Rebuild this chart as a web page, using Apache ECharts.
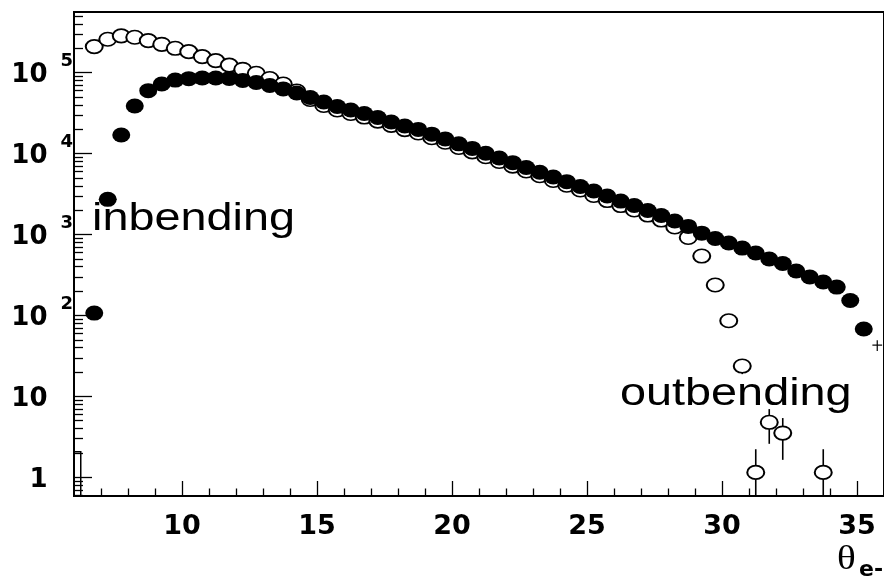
<!DOCTYPE html>
<html>
<head>
<meta charset="utf-8">
<script src="https://cdn.jsdelivr.net/npm/echarts@6/dist/echarts.min.js"></script>
<style>
  html, body { margin: 0; padding: 0; background: #fff; }
  #chart { width: 884px; height: 584px; }
</style>
</head>
<body>
<div id="chart"></div>
<script>
// Electron polar angle distribution, 0.5 degree bins
const thetaBins = [
  6.75, 7.25, 7.75, 8.25, 8.75, 9.25, 9.75, 10.25, 10.75, 11.25,
  11.75, 12.25, 12.75, 13.25, 13.75, 14.25, 14.75, 15.25, 15.75, 16.25,
  16.75, 17.25, 17.75, 18.25, 18.75, 19.25, 19.75, 20.25, 20.75, 21.25,
  21.75, 22.25, 22.75, 23.25, 23.75, 24.25, 24.75, 25.25, 25.75, 26.25,
  26.75, 27.25, 27.75, 28.25, 28.75, 29.25, 29.75, 30.25, 30.75, 31.25,
  31.75, 32.25, 32.75, 33.25, 33.75, 34.25, 34.75, 35.25
];

// inbending torus field (filled markers)
const inbending = [
  107, 2720, 17000, 38700, 60000, 72500, 81000, 84300, 86000, 86000,
  85000, 80000, 75700, 69500, 63000, 56100, 49300, 43400, 38200, 34600,
  31300, 27900, 24600, 21900, 19900, 17400, 15200, 13200, 11600, 10100,
  8830, 7730, 6730, 5890, 5140, 4500, 3920, 3450, 2990, 2590,
  2280, 1980, 1720, 1470, 1260, 1040, 893, 785, 680, 590,
  498, 438, 354, 299, 259, 224, 153, 68
];

// outbending torus field (open markers)
const outbending = [
  210000, 259000, 285000, 274000, 249000, 224000, 200000, 182000, 158000, 141000,
  124000, 110000, 98400, 84700, 72400, 59400, 46700, 39300, 34600, 31300,
  28300, 25200, 22300, 19800, 18000, 15700, 13800, 11900, 10500, 9140,
  7990, 7000, 6090, 5330, 4650, 4070, 3550, 3040, 2630, 2280,
  2010, 1740, 1510, 1240, 920, 542, 238, 86, 23.7, 1.15,
  4.78, 3.52, null, null, 1.15, null, null, null
];

// edge bins shown with error bars only
const inbendingEdgeBin = [35.75, 43];
const outbendingEdgeBin = [6.25, 2.07];

// axes
const X_MIN = 6, X_MAX = 36;
const Y_MIN = 0.5875, Y_MAX = 562000;
const xMajorTicks = [10, 15, 20, 25, 30, 35];
const xMinorTicks = [7, 8, 9, 11, 12, 13, 14, 16, 17, 18, 19, 21, 22, 23, 24,
                     26, 27, 28, 29, 31, 32, 33, 34, 36];
const yDecades = [0, 1, 2, 3, 4, 5];
const yTickLabels = [['1', ''], ['10', ''], ['10', '2'], ['10', '3'], ['10', '4'], ['10', '5']];

const yLogMin = Math.log10(Y_MIN), yLogMax = Math.log10(Y_MAX);
const yMinorTicks = [];
for (let d = -1; d <= 5; d++) {
  for (let m = 2; m <= 9; m++) {
    const v = Math.log10(m) + d;
    if (v > yLogMin && v < yLogMax) yMinorTicks.push(v);
  }
}

const toPoints = vals => thetaBins
  .map((x, i) => (vals[i] == null ? null : [x, vals[i]]))
  .filter(p => p !== null);

const inPts = toPoints(inbending);
const outPts = toPoints(outbending);

const BLACK = '#000';
const LABEL_FONT = '"DejaVu Sans", sans-serif';

function errorBar(params, api) {
  const x = api.value(0), v = api.value(1);
  const s = Math.sqrt(v);
  const lo = Math.max(v - s, Y_MIN), hi = Math.min(v + s, Y_MAX);
  const p1 = api.coord([x, lo]), p2 = api.coord([x, hi]);
  return {
    type: 'line',
    shape: { x1: p1[0], y1: p1[1], x2: p2[0], y2: p2[1] },
    style: { stroke: BLACK, lineWidth: 1.6 }
  };
}

function crossBar(params, api) {
  const x = api.value(0), v = api.value(1);
  const s = Math.sqrt(v);
  const a = api.coord([x, v - s]), b = api.coord([x, v + s]);
  const l = api.coord([x - 0.18, v]), r = api.coord([x + 0.18, v]);
  return {
    type: 'group',
    children: [
      { type: 'line', shape: { x1: a[0], y1: a[1], x2: b[0], y2: b[1] }, style: { stroke: BLACK, lineWidth: 1.2 } },
      { type: 'line', shape: { x1: l[0], y1: l[1], x2: r[0], y2: r[1] }, style: { stroke: BLACK, lineWidth: 1.2 } }
    ]
  };
}

function edgeStub(params, api) {
  const x = api.value(0), v = api.value(1);
  const p0 = api.coord([X_MIN, v]), p1 = api.coord([x, v]), p2 = api.coord([x, Y_MIN]);
  return {
    type: 'polyline',
    shape: { points: [p0, p1, p2] },
    style: { stroke: BLACK, lineWidth: 1.5, fill: null }
  };
}

const chart = echarts.init(document.getElementById('chart'), null, { renderer: 'canvas' });

chart.setOption({
  animation: false,
  backgroundColor: '#fff',
  grid: {
    left: 74, top: 12, right: -3, bottom: 88,
    show: true, borderColor: BLACK, borderWidth: 2, backgroundColor: 'transparent'
  },
  xAxis: [
    {
      type: 'value', min: X_MIN, max: X_MAX, position: 'bottom',
      axisLine: { show: true, onZero: false, lineStyle: { color: BLACK, width: 2 } },
      axisTick: { show: true, inside: true, length: 15, customValues: xMajorTicks,
                  lineStyle: { color: BLACK, width: 1.3 } },
      axisLabel: { show: true, customValues: xMajorTicks, margin: 17,
                   fontFamily: LABEL_FONT, fontWeight: 'bold', fontSize: 27, color: BLACK },
      splitLine: { show: false }
    },
    {
      type: 'value', min: X_MIN, max: X_MAX, position: 'bottom',
      axisLine: { show: false, onZero: false },
      axisTick: { show: true, inside: true, length: 7.5, customValues: xMinorTicks,
                  lineStyle: { color: BLACK, width: 1.3 } },
      axisLabel: { show: false },
      splitLine: { show: false }
    }
  ],
  yAxis: [
    {
      type: 'log', min: Y_MIN, max: Y_MAX, logBase: 10, position: 'left',
      axisLine: { show: true, onZero: false, lineStyle: { color: BLACK, width: 2 } },
      axisTick: { show: false },
      axisLabel: { show: false },
      splitLine: { show: false }
    },
    {
      type: 'value', min: yLogMin, max: yLogMax, position: 'left',
      axisLine: { show: false, onZero: false },
      axisTick: { show: true, inside: true, length: 18, customValues: yDecades,
                  lineStyle: { color: BLACK, width: 1.3 } },
      axisLabel: {
        show: true, customValues: yDecades, margin: 1, align: 'right',
        formatter: function (value) {
          const lab = yTickLabels[Math.round(value)];
          return lab[1] ? '{b|' + lab[0] + '}{s|' + lab[1] + '}' : '{b|' + lab[0] + '}{p| }';
        },
        rich: {
          b: { fontFamily: LABEL_FONT, fontWeight: 'bold', fontSize: 26, color: BLACK,
               padding: [6, 0, 0, 0] },
          s: { fontFamily: LABEL_FONT, fontWeight: 'bold', fontSize: 18, color: BLACK,
               padding: [0, 0, 22, 13] },
          p: { fontFamily: LABEL_FONT, fontSize: 18, width: 25.5 }
        }
      },
      splitLine: { show: false }
    },
    {
      type: 'value', min: yLogMin, max: yLogMax, position: 'left',
      axisLine: { show: false, onZero: false },
      axisTick: { show: true, inside: true, length: 9, customValues: yMinorTicks,
                  lineStyle: { color: BLACK, width: 1.3 } },
      axisLabel: { show: false },
      splitLine: { show: false }
    }
  ],
  series: [
    {
      name: 'outbending errors', type: 'custom', xAxisIndex: 0, yAxisIndex: 0, z: 1,
      renderItem: errorBar, data: outPts
    },
    {
      name: 'inbending errors', type: 'custom', xAxisIndex: 0, yAxisIndex: 0, z: 1,
      renderItem: errorBar, data: inPts
    },
    {
      name: 'outbending edge', type: 'custom', xAxisIndex: 0, yAxisIndex: 0, z: 1,
      renderItem: edgeStub, data: [outbendingEdgeBin]
    },
    {
      name: 'inbending edge', type: 'custom', xAxisIndex: 0, yAxisIndex: 0, z: 1,
      renderItem: crossBar, data: [inbendingEdgeBin]
    },
    {
      name: 'outbending', type: 'scatter', xAxisIndex: 0, yAxisIndex: 0, z: 2,
      symbol: 'circle', symbolSize: [17, 13.5],
      itemStyle: { color: '#fff', borderColor: BLACK, borderWidth: 1.8, opacity: 1 },
      data: outPts
    },
    {
      name: 'inbending', type: 'scatter', xAxisIndex: 0, yAxisIndex: 0, z: 3,
      symbol: 'circle', symbolSize: [18, 15],
      itemStyle: { color: BLACK, opacity: 1 },
      data: inPts
    }
  ],
  graphic: [
    {
      type: 'text', x: 92, y: 219.5, scaleX: 1.2, z: 10,
      style: { text: 'inbending', font: '39px "Liberation Sans", Arial, sans-serif', fill: BLACK,
               align: 'left', verticalAlign: 'middle' }
    },
    {
      type: 'text', x: 620, y: 394.5, scaleX: 1.2, z: 10,
      style: { text: 'outbending', font: '39px "Liberation Sans", Arial, sans-serif', fill: BLACK,
               align: 'left', verticalAlign: 'middle' }
    },
    {
      type: 'text', x: 837, y: 560, scaleX: 1.15, z: 10,
      style: { text: 'θ', font: '34px "Liberation Serif", serif', fill: BLACK,
               align: 'left', verticalAlign: 'middle' }
    },
    {
      type: 'text', x: 859, y: 570, z: 10,
      style: { text: 'e-', font: 'bold 22px "DejaVu Sans", sans-serif', fill: BLACK,
               align: 'left', verticalAlign: 'middle' }
    }
  ]
});
</script>
</body>
</html>
